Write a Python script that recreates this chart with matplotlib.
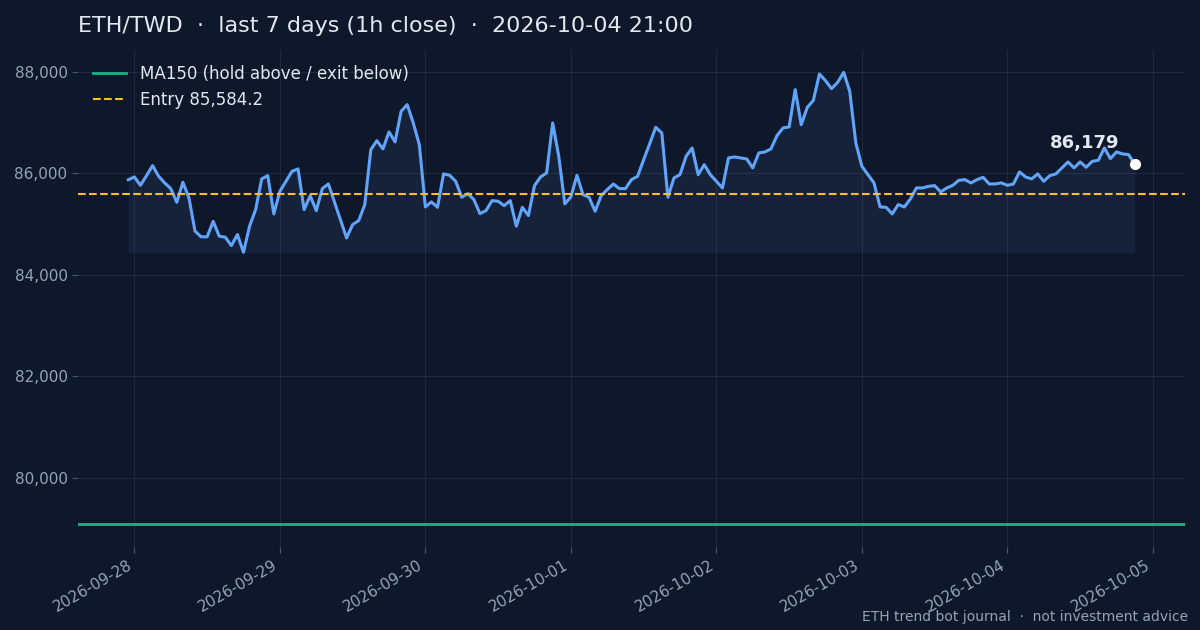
import matplotlib
matplotlib.use("Agg")
import matplotlib.pyplot as plt
import matplotlib.dates as mdates
import pandas as pd
import numpy as np

# hourly closes, 2026-09-27 23:00 -> 2026-10-04 21:00
close = [
    85870, 85925, 85760, 85950, 86148, 85937, 85807, 85695, 85425, 85820,
    85512, 84857, 84745, 84745, 85050, 84757, 84737, 84572, 84790, 84440,
    84955, 85281, 85886, 85951, 85196, 85642, 85839, 86036, 86083, 85281,
    85557, 85261, 85695, 85787, 85433, 85084, 84723, 84986, 85064, 85380,
    86463, 86640, 86477, 86812, 86615, 87218, 87350, 86989, 86562, 85334,
    85433, 85327, 85985, 85958, 85839, 85524, 85596, 85478, 85203, 85261,
    85458, 85445, 85360, 85458, 84955, 85327, 85163, 85754, 85925, 86004,
    86989, 86331, 85393, 85531, 85958, 85576, 85524, 85248, 85557, 85675,
    85787, 85695, 85695, 85872, 85937, 86262, 86579, 86903, 86792, 85524,
    85905, 85970, 86331, 86497, 85970, 86168, 85970, 85839, 85708, 86300,
    86319, 86300, 86280, 86103, 86398, 86418, 86477, 86739, 86891, 86910,
    87645, 86956, 87297, 87435, 87955, 87823, 87665, 87789, 87986, 87612,
    86595, 86135, 85970, 85807, 85334, 85327, 85196, 85380, 85334, 85491,
    85708, 85708, 85740, 85754, 85630, 85708, 85760, 85859, 85872, 85807,
    85872, 85918, 85787, 85787, 85807, 85760, 85787, 86024, 85925, 85886,
    85985, 85839, 85951, 85985, 86103, 86221, 86103, 86221, 86115, 86233,
    86253, 86497, 86286, 86418, 86379, 86365, 86179,
]
times = pd.date_range("2026-09-27 23:00", "2026-10-04 21:00", freq="h")
ma150 = 79080
entry = 85584.2
last_label = "86,179"

bg = "#0f172a"
fg = "#e2e8f0"
muted = "#94a3b8"
grid_c = "#1e293b"

fig = plt.figure(figsize=(12, 6.3), dpi=100, facecolor=bg)
ax = fig.add_axes([0.065, 0.132, 0.9225, 0.789])
ax.set_facecolor(bg)

y = np.array(close, dtype=float)
ax.fill_between(times, y, y.min(), color="#60a5fa", alpha=0.08, linewidth=0)
ax.plot(times, y, color="#60a5fa", lw=2.2)
ax.axhline(ma150, color="#10b981", lw=2, label="MA150 (hold above / exit below)")
ax.axhline(entry, color="#fbbf24", lw=1.5, ls="--", label=f"Entry {entry:,.1f}")

ax.plot(times[-1], y[-1], "o", color="white", ms=7, zorder=5)
ax.annotate(last_label, (times[-1], y[-1]), xytext=(-36, 15), textcoords="offset points",
            ha="center", va="center", color=fg, fontsize=13, fontweight="bold")

ax.xaxis.set_major_locator(mdates.DayLocator())
ax.xaxis.set_major_formatter(mdates.DateFormatter("%Y-%m-%d"))
ax.yaxis.set_major_formatter(matplotlib.ticker.FuncFormatter(lambda v, p: f"{v:,.0f}"))
plt.setp(ax.get_xticklabels(), rotation=30, ha="right")

ax.grid(True, color=grid_c, lw=0.8)
ax.set_axisbelow(True)
for s in ax.spines.values():
    s.set_visible(False)
ax.tick_params(colors=muted, labelsize=11, length=4, color="#475569")

ax.set_title("ETH/TWD  ·  last 7 days (1h close)  ·  2026-10-04 21:00",
             loc="left", color=fg, fontsize=16, pad=13)
leg = ax.legend(loc="upper left", frameon=False, fontsize=12, labelcolor=fg)

fig.text(0.99, 0.009, "ETH trend bot journal  ·  not investment advice",
         ha="right", va="bottom", color=muted, fontsize=10)

fig.savefig("out.png", facecolor=bg)
